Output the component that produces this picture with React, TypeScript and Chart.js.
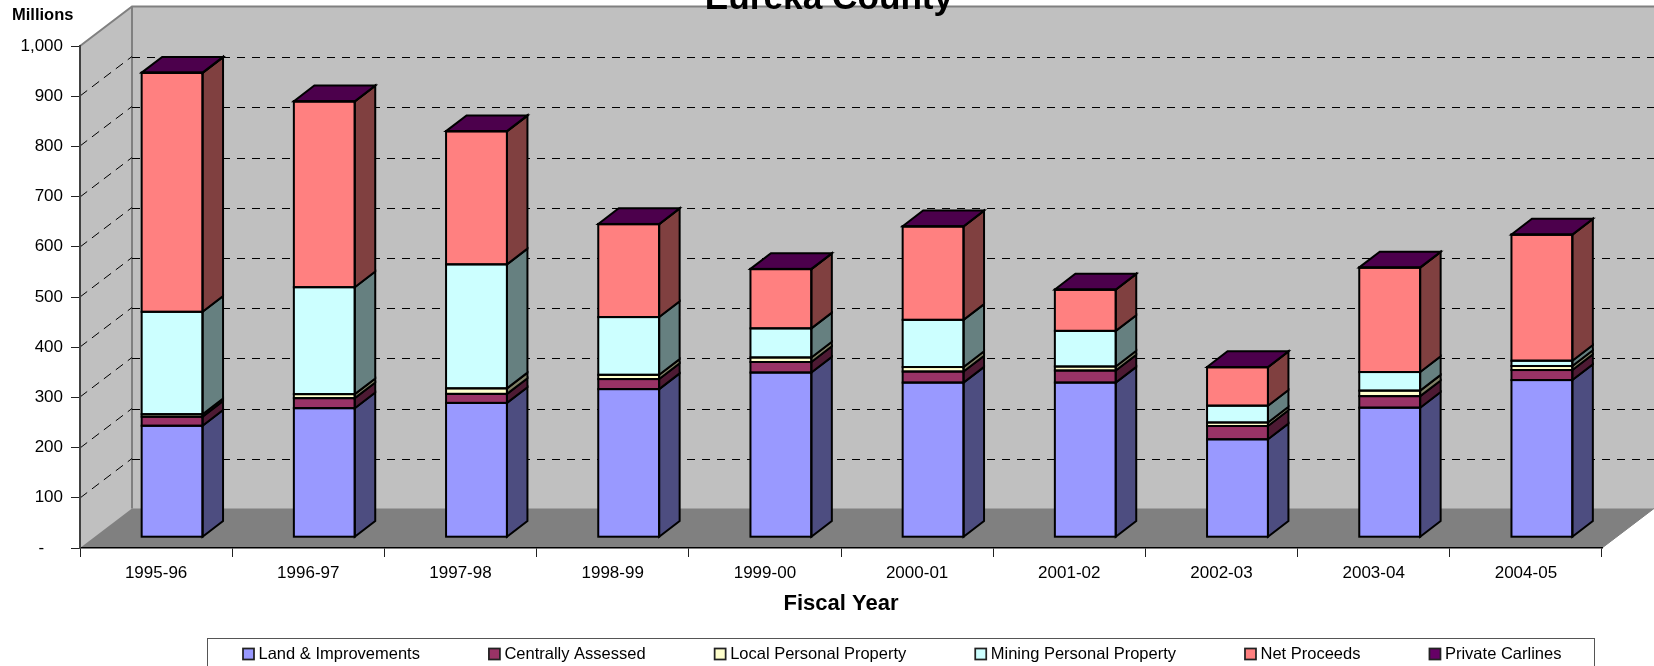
import React, { useEffect, useRef } from "react";
import { Chart, registerables } from "chart.js";

Chart.register(...registerables);

const FONT = '"Liberation Sans", Arial, sans-serif';

const categories = ["1995-96", "1996-97", "1997-98", "1998-99", "1999-00", "2000-01", "2001-02", "2002-03", "2003-04", "2004-05"];
const landImprovements = [222, 257, 267.5, 295, 328, 308, 308, 195, 258, 313];
const centrallyAssessed = [18, 20, 18, 20, 21, 22, 24, 26.5, 23, 20];
const localPersonal = [5, 8, 11, 8.5, 9, 9, 8, 7, 11, 8];
const miningPersonal = [204, 213, 247, 115, 58, 94, 71, 33.5, 37, 10.6];
const netProceeds = [476, 370, 265, 185, 118, 186, 82, 76.5, 208, 251];
const privateCarlines = [0.5, 0.5, 0.5, 0.5, 0.5, 0.5, 0.5, 0.5, 0.5, 0.5];

const seriesNames = ["Land & Improvements", "Centrally Assessed", "Local Personal Property", "Mining Personal Property", "Net Proceeds", "Private Carlines"];
const seriesValues = [landImprovements, centrallyAssessed, localPersonal, miningPersonal, netProceeds, privateCarlines];
const seriesColors = ["#9999FF", "#993366", "#FFFFCC", "#CCFFFF", "#FF8080", "#660066"];
const sideColors = ["#4D4D80", "#4D1A33", "#808066", "#668080", "#804040", "#330033"];
const topColor = "#4C004C";

const WALL_DX = 52, WALL_DY = 39.5;
const BAR_DX = 16, BAR_DY = 10.8;
const SIDE_DX = 20.5, SIDE_DY = 15.7;
const EDGE = 2;

const scene3d = {
  id: "scene3d",
  beforeDraw(chart: any) {
    const { ctx, chartArea: a, scales } = chart;
    const y = scales.y;
    ctx.save();
    // left wall and back wall
    ctx.fillStyle = "#C0C0C0";
    ctx.beginPath();
    ctx.moveTo(a.left, a.top);
    ctx.lineTo(a.left + WALL_DX, a.top - WALL_DY);
    ctx.lineTo(a.right + WALL_DX, a.top - WALL_DY);
    ctx.lineTo(a.right + WALL_DX, a.bottom - WALL_DY);
    ctx.lineTo(a.right, a.bottom);
    ctx.lineTo(a.left, a.bottom);
    ctx.closePath();
    ctx.fill();
    // floor
    ctx.fillStyle = "#808080";
    ctx.beginPath();
    ctx.moveTo(a.left, a.bottom);
    ctx.lineTo(a.right, a.bottom);
    ctx.lineTo(a.right + WALL_DX, a.bottom - WALL_DY);
    ctx.lineTo(a.left + WALL_DX, a.bottom - WALL_DY);
    ctx.closePath();
    ctx.fill();
    // wall edges
    ctx.strokeStyle = "#808080";
    ctx.lineWidth = 2;
    ctx.beginPath();
    ctx.moveTo(a.left, a.top);
    ctx.lineTo(a.left + WALL_DX, a.top - WALL_DY);
    ctx.lineTo(a.right + WALL_DX, a.top - WALL_DY);
    ctx.moveTo(a.left + WALL_DX, a.top - WALL_DY);
    ctx.lineTo(a.left + WALL_DX, a.bottom - WALL_DY);
    ctx.stroke();
    ctx.lineWidth = 1;
    ctx.beginPath();
    ctx.moveTo(a.right, a.bottom);
    ctx.lineTo(a.right + WALL_DX, a.bottom - WALL_DY);
    ctx.stroke();
    // grid lines
    ctx.strokeStyle = "#000000";
    ctx.lineWidth = 1;
    for (const t of y.ticks) {
      if (t.value <= 0 || t.value >= 1000) continue;
      const py = Math.round(y.getPixelForValue(t.value));
      ctx.setLineDash([9, 6]);
      ctx.beginPath();
      ctx.moveTo(a.left, py);
      ctx.lineTo(a.left + WALL_DX, py - WALL_DY);
      ctx.stroke();
      ctx.setLineDash([8, 7]);
      ctx.beginPath();
      ctx.moveTo(a.left + WALL_DX, Math.round(py - WALL_DY) + 0.5);
      ctx.lineTo(a.right + WALL_DX, Math.round(py - WALL_DY) + 0.5);
      ctx.stroke();
    }
    ctx.restore();
  },
  beforeDatasetsDraw(chart: any) {
    chart.ctx.save();
    chart.ctx.translate(BAR_DX, -BAR_DY);
  },
  afterDatasetsDraw(chart: any) {
    const { ctx } = chart;
    ctx.lineWidth = EDGE;
    ctx.strokeStyle = "#000000";
    ctx.lineJoin = "miter";
    const last = chart.data.datasets.length - 1;
    chart.data.datasets.forEach((_: any, i: number) => {
      chart.getDatasetMeta(i).data.forEach((el: any) => {
        const l = el.x - el.width / 2;
        const r = el.x + el.width / 2;
        const t = el.y;
        const b = el.base;
        ctx.fillStyle = sideColors[i];
        ctx.beginPath();
        ctx.moveTo(r, t);
        ctx.lineTo(r + SIDE_DX, t - SIDE_DY);
        ctx.lineTo(r + SIDE_DX, b - SIDE_DY);
        ctx.lineTo(r, b);
        ctx.closePath();
        ctx.fill();
        ctx.stroke();
        if (i === last) {
          ctx.fillStyle = topColor;
          ctx.beginPath();
          ctx.moveTo(l, t);
          ctx.lineTo(l + SIDE_DX, t - SIDE_DY);
          ctx.lineTo(r + SIDE_DX, t - SIDE_DY);
          ctx.lineTo(r, t);
          ctx.closePath();
          ctx.fill();
          ctx.stroke();
        }
        ctx.strokeRect(l, t, r - l, b - t);
      });
    });
    ctx.restore();
  },
  afterDraw(chart: any) {
    const { ctx } = chart;
    ctx.save();
    // y axis caption
    ctx.fillStyle = "#000000";
    ctx.textBaseline = "middle";
    ctx.textAlign = "left";
    ctx.font = `bold 16.5px ${FONT}`;
    ctx.fillText("Millions", 12, 15.5);
    // legend
    ctx.strokeStyle = "#555555";
    ctx.lineWidth = 1;
    ctx.strokeRect(207.5, 638.5, 1387, 40);
    ctx.font = `16.5px ${FONT}`;
    let x = 243;
    chart.data.datasets.forEach((ds: any) => {
      ctx.fillStyle = ds.backgroundColor;
      ctx.fillRect(x, 648.5, 11, 11);
      ctx.strokeStyle = "#222222";
      ctx.lineWidth = 1.75;
      ctx.strokeRect(x, 648.5, 11, 11);
      ctx.fillStyle = "#000000";
      ctx.fillText(ds.label, x + 15.5, 654.5);
      x += 15.5 + ctx.measureText(ds.label).width + 69;
    });
    ctx.restore();
  },
};

export default function App() {
  const ref = useRef<HTMLCanvasElement>(null);
  useEffect(() => {
    const chart = new Chart(ref.current as HTMLCanvasElement, {
      type: "bar",
      data: {
        labels: categories,
        datasets: seriesNames.map((label, i) => ({
          label,
          data: seriesValues[i],
          backgroundColor: seriesColors[i],
          borderWidth: 0,
          clip: false,
          barPercentage: 1,
          categoryPercentage: 0.4,
        })),
      },
      plugins: [scene3d],
      options: {
        responsive: false,
        animation: false,
        layout: { autoPadding: false, padding: { left: 4, right: 0, top: 0, bottom: 0 } },
        plugins: {
          legend: { display: false },
          tooltip: { enabled: false },
          title: {
            display: true,
            text: "Eureka County",
            color: "#000000",
            font: { family: FONT, size: 35.2, weight: "bold" },
            padding: { top: -21.9, bottom: 25.66 },
          },
        },
        scales: {
          x: {
            stacked: true,
            afterFit: (s: any) => { s.height = 118; },
            grid: { display: true, offset: true, drawOnChartArea: false, drawTicks: true, tickLength: 9, tickColor: "#222222", lineWidth: 1 },
            border: { display: true, color: "#000000", width: 1.5 },
            ticks: { color: "#000000", font: { family: FONT, size: 17 }, padding: 6, maxRotation: 0, autoSkip: false },
            title: { display: true, text: "Fiscal Year", color: "#000000", font: { family: FONT, size: 22, weight: "bold" }, padding: { top: 0, bottom: 49 } },
          },
          y: {
            stacked: true,
            min: 0,
            max: 1000,
            afterFit: (s: any) => { s.width = 76; },
            grid: { display: true, drawOnChartArea: false, drawTicks: true, tickLength: 9, tickColor: "#222222", lineWidth: 1 },
            border: { display: true, color: "#404040", width: 2 },
            ticks: {
              stepSize: 100,
              color: "#000000",
              padding: 8,
              font: { family: FONT, size: 17 },
              callback: (v: any) => (v === 0 ? "-\u00A0\u00A0\u00A0\u00A0" : Number(v).toLocaleString("en-US")),
            },
          },
          rightGap: {
            type: "linear",
            position: "right",
            afterFit: (s: any) => { s.width = 52; },
            grid: { display: false },
            border: { display: false },
            ticks: { display: false },
          },
        },
      },
    } as any);
    return () => chart.destroy();
  }, []);
  return (
    <div style={{ position: "fixed", left: 0, top: 0, width: 1654, height: 666, background: "#fff", overflow: "hidden" }}>
      <canvas ref={ref} width={1654} height={666} style={{ display: "block" }} />
    </div>
  );
}
